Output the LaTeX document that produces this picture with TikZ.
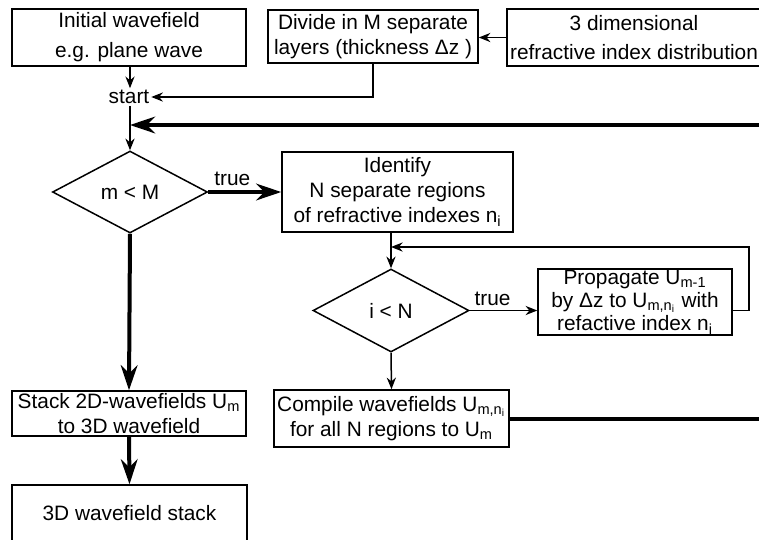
\documentclass[tikz,border=0pt]{standalone}
\usepackage{fontspec}
\setmainfont{Liberation Sans}
\usepackage{tikz}
\usetikzlibrary{positioning,arrows.meta,calc,shapes.geometric}

\begin{document}
\begin{tikzpicture}[
  x=0.6pt, y=-0.6pt,
  box/.style={draw, line width=0.9pt, inner sep=0pt, align=center, font=\fontsize{12.5}{15}\selectfont},
  cond/.style={draw, diamond, line width=0.9pt, inner sep=0pt, font=\fontsize{12.5}{15}\selectfont},
  arr/.style={-{Stealth[length=7pt, width=5.5pt]}, line width=0.9pt},
  bigarr/.style={-{Stealth[length=15pt, width=10pt]}, line width=2.4pt},
  lbl/.style={font=\fontsize{12.5}{15}\selectfont, inner sep=2.5pt},
]
\path[use as bounding box, clip] (0,0) rectangle (759,539);

% ===== input =====
\node[box, minimum width=140.4pt, minimum height=34.2pt] (init) at (129,37.5) {Initial wavefield\\[3pt]e.g. plane wave};
\node[box, minimum width=126pt, minimum height=31.8pt] (divide) at (373,36.5) {Divide in M separate\\layers (thickness Δz )};
\node[box, minimum width=152.4pt, minimum height=34.2pt] (dist) at (634,37.5) {3 dimensional\\[2pt]refractive index distribution};
\node[lbl, inner sep=1pt] (start) at (129,97) {start};
\coordinate (merge) at (130,125);
\coordinate (outer) at (775,125);

\draw[arr] (dist.west) -- (dist.west -| divide.east);
\draw[arr] (divide.south) |- (start.east);
\draw[arr] (init.south -| merge) -- (start.north -| merge);

% ===== outer loop over layers =====
\node[cond, minimum width=93pt, minimum height=49.2pt] (cond1) at (130,192) {m < M};
\node[box, minimum width=138.6pt, minimum height=48pt] (ident) at (397.5,192) {Identify\\N separate regions\\of refractive indexes n\textsubscript{i}};

\draw[arr] (start.south -| merge) -- (cond1.north);
\draw[bigarr] (cond1.east) -- node[lbl, anchor=south west, pos=0] {true} (ident.west);

% ===== inner loop over regions =====
\node[cond, minimum width=93.6pt, minimum height=49.8pt] (cond2) at (391,310.5) {i < N};
\node[box, minimum width=116.4pt, minimum height=39.6pt, font=\fontsize{12.5}{14}\selectfont] (prop) at (635,302) {Propagate U\textsubscript{m-1}\\by Δz to U\textsubscript{m,n\textsubscript{i}} with\\refactive index n\textsubscript{i}};
\node[box, minimum width=141pt, minimum height=34.2pt] (compile) at (391.5,418.5) {Compile wavefields U\textsubscript{m,n\textsubscript{i}}\\for all N regions to U\textsubscript{m}};
\coordinate (back) at (749,247);

\draw[arr] (ident.south -| cond2.north) -- (cond2.north);
\draw[arr] (cond2.east) -- node[lbl, anchor=south west, pos=0] {true} (cond2.east -| prop.west);
\draw[arr] (cond2.east -| prop.east) -| (back) -- (back -| cond2.north);
\draw[arr] (cond2.south) -- (compile.north);
\draw[bigarr] (compile.east) -| (outer) -- (merge);

% ===== output =====
\node[box, minimum width=140.4pt, minimum height=27pt] (stack) at (129,413.5) {Stack 2D-wavefields U\textsubscript{m}\\to 3D wavefield};
\node[box, minimum width=141pt, minimum height=34.2pt] (final) at (129.5,513.5) {3D wavefield stack};

\draw[bigarr] (cond1.south) -- (stack.north);
\draw[bigarr] (stack.south) -- (final.north);

\end{tikzpicture}
\end{document}
